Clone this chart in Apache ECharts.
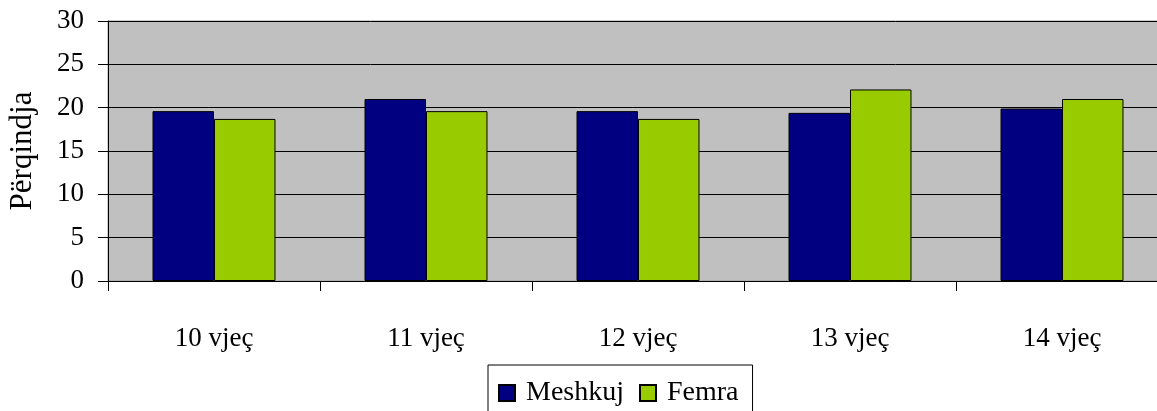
<!doctype html>
<html>
<head>
<meta charset="utf-8">
<title>Përqindja</title>
<script src="https://cdn.jsdelivr.net/npm/echarts@6/dist/echarts.min.js"></script>
<style>
  html, body { margin: 0; padding: 0; background: #fff; }
  #chart { width: 1157px; height: 411px; }
</style>
</head>
<body>
<div id="chart"></div>
<script>
var categories = ['10 vjeç', '11 vjeç', '12 vjeç', '13 vjeç', '14 vjeç'];
var meshkuj = [19.6, 21.0, 19.6, 19.4, 19.9];
var femra = [18.7, 19.6, 18.7, 22.1, 21.0];
var seriesNames = ['Meshkuj', 'Femra'];

var font = "'Liberation Serif', 'Times New Roman', serif";
var chart = echarts.init(document.getElementById('chart'));

var option = {
  animation: false,
  textStyle: { fontFamily: font, color: '#000' },
  grid: {
    left: 108, top: 21, right: -11, bottom: 130,
    outerBoundsMode: 'none',
    containLabel: false,
    show: true, backgroundColor: '#C0C0C0', borderColor: '#9a9a9a', borderWidth: 1
  },
  legend: {
    data: seriesNames,
    left: 488, top: 365,
    padding: [14, 14, 40, 10],
    itemGap: 15,
    itemWidth: 16, itemHeight: 16,
    icon: 'rect',
    borderColor: '#000', borderWidth: 1,
    textStyle: { fontFamily: font, fontSize: 28, color: '#000', padding: [0, 0, 0, 6] }
  },
  xAxis: {
    type: 'category',
    data: categories,
    axisLine: { lineStyle: { color: '#000', width: 1 } },
    axisTick: { show: true, length: 10, alignWithLabel: false, lineStyle: { color: '#000' } },
    axisLabel: { fontFamily: font, fontSize: 27, color: '#000', margin: 44 }
  },
  yAxis: {
    type: 'value',
    min: 0, max: 30, interval: 5,
    name: 'Përqindja',
    nameLocation: 'middle',
    nameGap: 70,
    nameMoveOverlap: false,
    nameTextStyle: { fontFamily: font, fontSize: 31, color: '#000' },
    axisLine: { show: true, lineStyle: { color: '#000', width: 1 } },
    axisTick: { show: true, length: 10, lineStyle: { color: '#000' } },
    axisLabel: { fontFamily: font, fontSize: 27, color: '#000', margin: 24 },
    splitLine: { lineStyle: { color: '#000', width: 1 } }
  },
  series: [
    {
      name: seriesNames[0], type: 'bar', data: meshkuj,
      barGap: '0%', barCategoryGap: '42%',
      itemStyle: { color: '#000080', borderColor: '#000', borderWidth: 1 }
    },
    {
      name: seriesNames[1], type: 'bar', data: femra,
      itemStyle: { color: '#99CC00', borderColor: '#000', borderWidth: 1 }
    }
  ]
};
chart.setOption(option);
</script>
</body>
</html>
